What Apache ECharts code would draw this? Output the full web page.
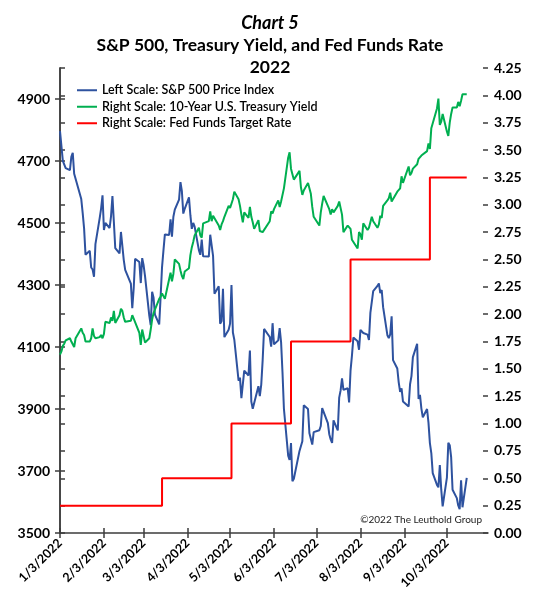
<!DOCTYPE html>
<html><head><meta charset="utf-8">
<script src="https://cdn.jsdelivr.net/npm/echarts@6/dist/echarts.min.js"></script>
<style>html,body{margin:0;padding:0;background:#fff}#c{width:540px;height:602px}</style>
</head><body><div id="c"></div>
<script>
const dates = [
'1/3','1/4','1/5','1/6','1/7','1/10','1/11','1/12','1/13','1/14','1/18','1/19','1/20','1/21','1/24','1/25','1/26','1/27','1/28','1/31',
'2/1','2/2','2/3','2/4','2/7','2/8','2/9','2/10','2/11','2/14','2/15','2/16','2/17','2/18','2/22','2/23','2/24','2/25','2/28',
'3/1','3/2','3/3','3/4','3/7','3/8','3/9','3/10','3/11','3/14','3/15','3/16','3/17','3/18','3/21','3/22','3/23','3/24','3/25','3/28','3/29','3/30','3/31',
'4/1','4/4','4/5','4/6','4/7','4/8','4/11','4/12','4/13','4/14','4/18','4/19','4/20','4/21','4/22','4/25','4/26','4/27','4/28','4/29',
'5/2','5/3','5/4','5/5','5/6','5/9','5/10','5/11','5/12','5/13','5/16','5/17','5/18','5/19','5/20','5/23','5/24','5/25','5/26','5/27','5/31',
'6/1','6/2','6/3','6/6','6/7','6/8','6/9','6/10','6/13','6/14','6/15','6/16','6/17','6/21','6/22','6/23','6/24','6/27','6/28','6/29','6/30',
'7/1','7/5','7/6','7/7','7/8','7/11','7/12','7/13','7/14','7/15','7/18','7/19','7/20','7/21','7/22','7/25','7/26','7/27','7/28','7/29',
'8/1','8/2','8/3','8/4','8/5','8/8','8/9','8/10','8/11','8/12','8/15','8/16','8/17','8/18','8/19','8/22','8/23','8/24','8/25','8/26','8/29','8/30','8/31',
'9/1','9/2','9/6','9/7','9/8','9/9','9/12','9/13','9/14','9/15','9/16','9/19','9/20','9/21','9/22','9/23','9/26','9/27','9/28','9/29','9/30',
'10/3','10/4','10/5','10/6','10/7','10/10','10/11','10/12','10/13','10/14','10/17'
];
const spx = [
4796.56,4793.54,4700.58,4696.05,4677.03,4670.29,4713.07,4726.35,4659.03,4662.85,4577.11,4532.76,4482.73,4397.94,4410.13,4356.45,4349.93,4326.51,4431.85,4515.55,
4546.54,4589.38,4477.44,4500.53,4483.87,4521.54,4587.18,4504.08,4418.64,4401.67,4471.07,4475.01,4380.26,4348.87,4304.76,4225.50,4288.70,4384.65,4373.94,
4306.26,4386.54,4363.49,4328.87,4201.09,4170.70,4277.88,4259.52,4204.31,4173.11,4262.45,4357.86,4411.67,4463.12,4461.18,4511.61,4456.24,4520.16,4543.06,4575.52,4631.60,4602.45,4530.41,
4545.86,4582.64,4525.12,4481.15,4500.21,4488.28,4412.53,4397.45,4446.59,4392.59,4391.69,4462.21,4459.45,4393.66,4271.78,4296.12,4175.20,4183.96,4287.50,4131.93,
4155.38,4175.48,4300.17,4146.87,4123.34,3991.24,4001.05,3935.18,3930.08,4023.89,4008.01,4088.85,3923.68,3900.79,3901.36,3973.75,3941.48,3978.73,4057.84,4158.24,4132.15,
4101.23,4176.82,4108.54,4121.43,4160.68,4115.77,4017.82,3900.86,3749.63,3735.48,3789.99,3666.77,3674.84,3764.79,3759.89,3795.73,3911.74,3900.11,3821.55,3818.83,3785.38,
3825.33,3831.39,3845.08,3902.62,3899.38,3854.43,3818.80,3801.78,3790.38,3863.16,3830.85,3936.69,3959.90,3998.95,3961.63,3966.84,3921.05,4023.61,4072.43,4130.29,
4118.63,4091.19,4155.17,4151.94,4145.19,4140.06,4122.47,4210.24,4207.27,4280.15,4297.14,4305.20,4274.04,4283.74,4228.48,4137.99,4128.73,4140.77,4199.12,4057.66,4030.61,3986.16,3955.00,
3966.85,3924.26,3908.19,3979.87,4006.18,4067.36,4110.41,3932.69,3946.01,3901.35,3873.33,3899.89,3855.93,3789.93,3757.99,3693.23,3655.04,3647.29,3719.04,3640.47,3585.62,
3678.43,3790.93,3783.28,3744.52,3639.66,3612.39,3588.84,3577.03,3669.91,3583.07,3677.95
];
const ust10 = [
1.63,1.66,1.71,1.73,1.76,1.78,1.75,1.74,1.70,1.78,1.87,1.83,1.81,1.75,1.75,1.78,1.87,1.80,1.78,1.79,
1.81,1.78,1.82,1.93,1.92,1.97,1.94,2.03,1.92,1.99,2.05,2.03,1.97,1.93,1.94,1.99,1.96,1.97,1.83,
1.72,1.86,1.87,1.74,1.78,1.86,1.95,2.01,2.00,2.14,2.16,2.19,2.20,2.14,2.32,2.38,2.30,2.37,2.50,2.46,2.40,2.35,2.32,
2.39,2.42,2.54,2.61,2.66,2.72,2.79,2.72,2.70,2.83,2.85,2.94,2.85,2.90,2.90,2.81,2.77,2.82,2.85,2.89,
2.99,2.97,2.97,3.05,3.12,3.05,2.99,2.91,2.84,2.93,2.88,2.98,2.89,2.84,2.78,2.86,2.76,2.75,2.75,2.74,2.85,
2.94,2.92,2.96,3.04,2.98,3.03,3.04,3.15,3.43,3.48,3.33,3.28,3.23,3.31,3.16,3.09,3.13,3.20,3.20,3.10,2.98,
2.89,2.81,2.93,3.01,3.08,2.99,2.96,2.91,2.96,2.93,2.99,3.03,3.04,2.91,2.75,2.81,2.81,2.78,2.68,2.67,
2.60,2.75,2.73,2.68,2.83,2.77,2.79,2.78,2.89,2.85,2.79,2.82,2.90,2.88,2.99,3.04,3.06,3.11,3.03,3.04,3.12,3.11,3.15,
3.26,3.20,3.35,3.27,3.29,3.33,3.37,3.42,3.41,3.45,3.45,3.49,3.56,3.51,3.70,3.69,3.88,3.97,3.73,3.76,3.83,
3.67,3.63,3.75,3.83,3.89,3.89,3.94,3.90,3.95,4.01,4.01
];
const fedDates = ['1/3','3/16','5/4','6/15','7/27','9/21','10/17'];
const fedRate = [0.25,0.50,1.00,1.75,2.50,3.25,3.25];
const xTickDates = ['1/3','2/3','3/3','4/3','5/3','6/3','7/3','8/3','9/3','10/3'];
const xTickLabels = ['1/3/2022','2/3/2022','3/3/2022','4/3/2022','5/3/2022','6/3/2022','7/3/2022','8/3/2022','9/3/2022','10/3/2022'];
const leftTicks = [3500,3700,3900,4100,4300,4500,4700,4900];
const rightTicks = [0,0.25,0.5,0.75,1,1.25,1.5,1.75,2,2.25,2.5,2.75,3,3.25,3.5,3.75,4,4.25];
const xEndDate = '11/1';

function dayIndex(md){const p=md.split('/').map(Number);return Math.round((Date.UTC(2022,p[0]-1,p[1])-Date.UTC(2022,0,3))/86400000);}
const xTicks = xTickDates.map(dayIndex);
const FONT = 'Lato, "Open Sans", sans-serif';
const AX = '#3c3c3c';

const chart = echarts.init(document.getElementById('c'), null, {renderer:'canvas'});
const baseX = {type:'value', min:0, max:dayIndex(xEndDate), splitLine:{show:false}, position:'bottom'};
const baseL = {type:'value', min:3500, max:5000, position:'left', splitLine:{show:false}};
const baseR = {type:'value', min:0, max:4.25, position:'right', splitLine:{show:false}};
chart.setOption({
  animation:false,
  backgroundColor:'#fff',
  title:[
    {text:'Chart 5', left:'center', top:9, textStyle:{fontFamily:FONT, fontSize:18, fontStyle:'italic', fontWeight:'bold', color:'#000'}},
    {text:'S&P 500, Treasury Yield, and Fed Funds Rate', left:'center', top:31, textStyle:{fontFamily:FONT, fontSize:17.5, fontWeight:'bold', color:'#000'}},
    {text:'2022', left:'center', top:53, textStyle:{fontFamily:FONT, fontSize:17.5, fontWeight:'bold', color:'#000'}}
  ],
  legend:{
    orient:'vertical', left:72, top:77, itemWidth:20, itemHeight:2, itemGap:0, icon:'rect',
    textStyle:{fontFamily:FONT, fontSize:12.5, fontWeight:600, color:'#000', lineHeight:16.5},
    data:['Left Scale: S&P 500 Price Index','Right Scale: 10-Year U.S. Treasury Yield','Right Scale: Fed Funds Target Rate']
  },
  grid:{left:60, right:52, top:68, bottom:69, containLabel:false},
  xAxis:[
    Object.assign({}, baseX, {
      axisLine:{lineStyle:{color:AX, width:1.5}},
      axisTick:{show:true, length:5, customValues:xTicks, lineStyle:{color:AX, width:1.5}},
      axisLabel:{customValues:xTicks, rotate:45, margin:8, fontFamily:FONT, fontSize:12.5, fontWeight:'bold', color:'#000',
        formatter:function(v){const i=xTicks.indexOf(Math.round(v));return i>=0?xTickLabels[i]:'';}}
    }),
    Object.assign({}, baseX, {
      axisLine:{show:false},
      axisTick:{show:true, inside:true, length:5, customValues:xTicks, lineStyle:{color:AX, width:1.5}},
      axisLabel:{show:false}
    })
  ],
  yAxis:[
    Object.assign({}, baseL, {
      axisLine:{show:true, lineStyle:{color:AX, width:1.5}},
      axisTick:{show:true, length:5, customValues:leftTicks, lineStyle:{color:AX, width:1.5}},
      axisLabel:{customValues:leftTicks, margin:10, fontFamily:FONT, fontSize:14, fontWeight:'bold', color:'#000',
        formatter:function(v){return String(Math.round(v));}}
    }),
    Object.assign({}, baseR, {
      axisLine:{show:true, lineStyle:{color:AX, width:1.5}},
      axisTick:{show:true, length:5, customValues:rightTicks, lineStyle:{color:AX, width:1.5}},
      axisLabel:{customValues:rightTicks, margin:6, fontFamily:FONT, fontSize:14, fontWeight:'bold', color:'#000',
        formatter:function(v){return Number(v).toFixed(2);}}
    }),
    Object.assign({}, baseL, {
      axisLine:{show:false},
      axisTick:{show:true, inside:true, length:5, customValues:leftTicks, lineStyle:{color:AX, width:1.5}},
      axisLabel:{show:false}
    }),
    Object.assign({}, baseR, {
      axisLine:{show:false},
      axisTick:{show:true, inside:true, length:5, customValues:rightTicks, lineStyle:{color:AX, width:1.5}},
      axisLabel:{show:false}
    })
  ],
  graphic:[
    {type:'text', right:58, top:515, style:{text:'\u00A92022 The Leuthold Group', fontFamily:FONT, fontSize:10, fill:'#222'}}
  ],
  series:[
    {name:'Left Scale: S&P 500 Price Index', type:'line', xAxisIndex:0, yAxisIndex:0, showSymbol:false, symbol:'none',
      lineStyle:{color:'#2E529F', width:2}, itemStyle:{color:'#2E529F'},
      data:dates.map((d,i)=>[dayIndex(d), spx[i]])},
    {name:'Right Scale: 10-Year U.S. Treasury Yield', type:'line', xAxisIndex:0, yAxisIndex:1, showSymbol:false, symbol:'none',
      lineStyle:{color:'#00AF50', width:2}, itemStyle:{color:'#00AF50'},
      data:dates.map((d,i)=>[dayIndex(d), ust10[i]])},
    {name:'Right Scale: Fed Funds Target Rate', type:'line', xAxisIndex:0, yAxisIndex:1, showSymbol:false, symbol:'none', step:'end',
      lineStyle:{color:'#FF0000', width:2}, itemStyle:{color:'#FF0000'},
      data:fedDates.map((d,i)=>[dayIndex(d), fedRate[i]])}
  ]
});
</script></body></html>
